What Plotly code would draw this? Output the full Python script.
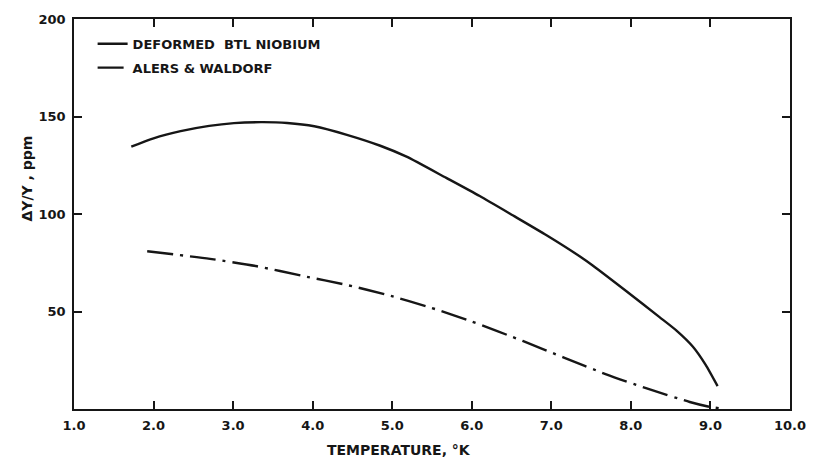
import plotly.graph_objects as go

# Data
temp_btl = [1.72, 2.00, 2.34, 2.70, 3.01, 3.35, 3.68, 4.02, 4.43, 4.85, 5.18, 5.68, 6.10, 6.52,
            6.94, 7.36, 7.52, 7.94, 8.36, 8.57, 8.78, 8.94, 9.09]
dy_btl = [134.5, 138.8, 142.5, 145.2, 146.6, 147.1, 146.7, 145.0, 140.6, 135.0, 129.4, 118.5, 109.2, 99.2,
          89.1, 78.2, 73.6, 60.5, 47.1, 40.3, 31.9, 22.6, 11.7]

temp_aw = [1.92, 2.71, 3.30, 3.88, 4.43, 4.93, 5.49, 6.00, 6.64, 7.15, 7.69, 8.19, 8.74, 8.99, 9.18]
dy_aw = [80.9, 77.0, 73.2, 68.2, 63.6, 58.6, 51.9, 44.9, 34.9, 26.5, 17.8, 10.7, 3.6, 1.1, 0.0]

series_names = ["DEFORMED  BTL NIOBIUM", "ALERS & WALDORF"]
x_ticks = [1, 2, 3, 4, 5, 6, 7, 8, 9, 10]
x_tick_labels = ["1.0", "2.0", "3.0", "4.0", "5.0", "6.0", "7.0", "8.0", "9.0", "10.0"]
y_ticks = [50, 100, 150, 200]
y_tick_labels = ["50", "100", "150", "200"]
x_title = "TEMPERATURE, °K"
y_title = "ΔY/Y , ppm"

FONT = "DejaVu Sans"
INK = "#161616"

fig = go.Figure()
fig.add_trace(go.Scatter(
    x=temp_btl, y=dy_btl, mode="lines", name=series_names[0], legendgroup="a",
    line=dict(color=INK, width=2.4, shape="spline", smoothing=0.6),
))
fig.add_trace(go.Scatter(
    x=temp_aw, y=dy_aw, mode="lines", name=series_names[1], legendgroup="b",
    line=dict(color=INK, width=2.4, shape="spline", smoothing=0.6, dash="26px,7px,3px,7px"),
))

axis_common = dict(
    showgrid=False, zeroline=False, showline=True, linecolor=INK, linewidth=1.5,
    ticks="inside", ticklen=8, tickwidth=1.5, tickcolor=INK, mirror="ticks",
    tickfont=dict(family=FONT, size=13, color=INK, weight="bold"),
)

fig.update_xaxes(range=[1, 10], tickvals=x_ticks, ticktext=x_tick_labels, ticklabelstandoff=4,
                 **axis_common)
fig.update_yaxes(range=[0, 200], tickvals=y_ticks, ticktext=y_tick_labels, ticklabelstandoff=4,
                 **axis_common)

fig.add_annotation(
    text=x_title, xref="paper", yref="paper",
    x=0.454, y=-0.104, showarrow=False, xanchor="center", yanchor="middle",
    font=dict(family=FONT, size=14, color=INK, weight="bold"),
)
fig.add_annotation(
    text=y_title, textangle=-90, xref="paper", yref="paper",
    x=-0.065, y=0.592, showarrow=False, xanchor="center", yanchor="middle",
    font=dict(family=FONT, size=14, color=INK, weight="bold"),
)

fig.update_layout(
    width=818, height=459,
    margin=dict(l=74, r=27, t=15, b=50),
    paper_bgcolor="white", plot_bgcolor="white",
    showlegend=True,
    legend=dict(x=0.026, y=0.975, xanchor="left", yanchor="top",
                bgcolor="rgba(0,0,0,0)",
                font=dict(family=FONT, size=13, color=INK, weight="bold"),
                tracegroupgap=4),
)

fig.write_html("out.html")
